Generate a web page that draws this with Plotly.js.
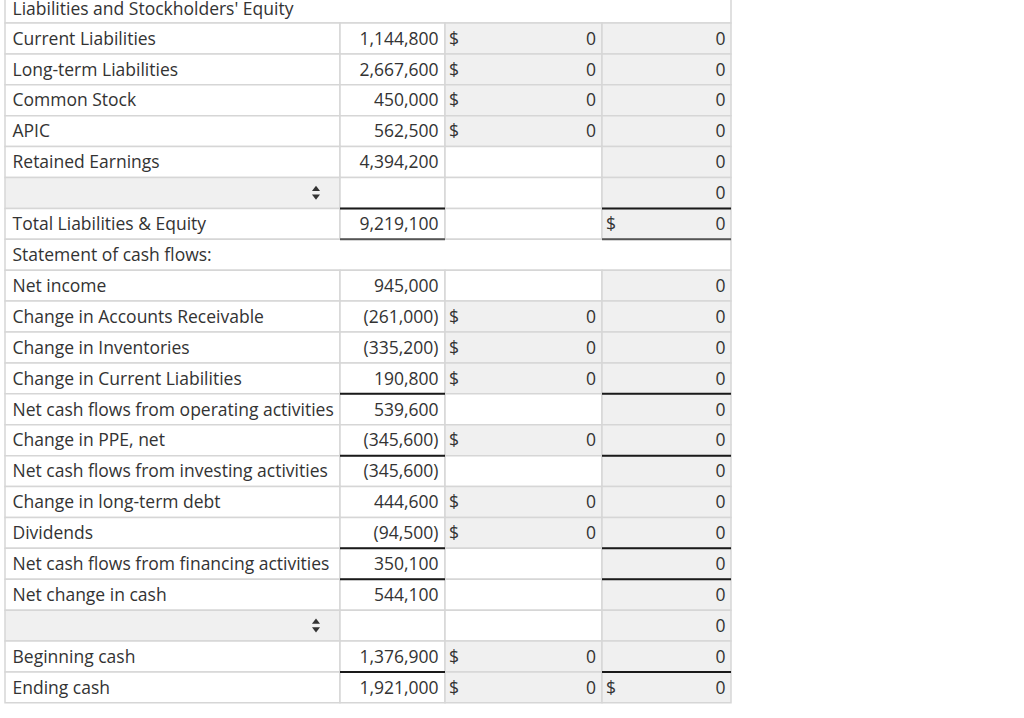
<!DOCTYPE html>
<html>
<head>
<meta charset="utf-8">
<script src="https://cdn.plot.ly/plotly-3.0.1.min.js"></script>
<style>html,body{margin:0;padding:0;background:#fff;}#chart{width:1024px;height:718px;}</style>
</head>
<body>
<div id="chart"></div>
<script>
// ---- data ----
const labels = [
  "Liabilities and Stockholders' Equity",
  "Current Liabilities",
  "Long-term Liabilities",
  "Common Stock",
  "APIC",
  "Retained Earnings",
  "",
  "Total Liabilities & Equity",
  "Statement of cash flows:",
  "Net income",
  "Change in Accounts Receivable",
  "Change in Inventories",
  "Change in Current Liabilities",
  "Net cash flows from operating activities",
  "Change in PPE, net",
  "Net cash flows from investing activities",
  "Change in long-term debt",
  "Dividends",
  "Net cash flows from financing activities",
  "Net change in cash",
  "",
  "Beginning cash",
  "Ending cash"
];
const givenValues = [null, 1144800, 2667600, 450000, 562500, 4394200, null, 9219100, null,
  945000, -261000, -335200, 190800, 539600, -345600, -345600, 444600, -94500, 350100, 544100, null,
  1376900, 1921000];
const inputValues = [null, 0, 0, 0, 0, null, null, null, null,
  null, 0, 0, 0, null, 0, null, 0, 0, null, null, null,
  0, 0];
const resultValues = [null, 0, 0, 0, 0, 0, 0, 0, null,
  0, 0, 0, 0, 0, 0, 0, 0, 0, 0, 0, 0,
  0, 0];
const resultDollar = [7, 22];
const spanRows = [0, 8];
const dropdownRows = [6, 20];
const totalRows = [7, 13, 15, 18, 19, 22];
const doubleUnderlineRows = [7];

// ---- layout helpers ----
const colEdges = [5, 340, 445, 602, 731];
const GRID = '#d6d6d6', GRAY = '#f0f0f0', TXT = '#333333';
const FONT = {family: 'Open Sans, sans-serif', size: 17.5, color: TXT};
const TY = 0.56; // text vertical position inside a row

function fmt(v) {
  if (v === null) return '';
  const s = Math.abs(v).toLocaleString('en-US');
  return v < 0 ? '(' + s + ')' : s;
}

const shapes = [];
const n = labels.length;
for (let i = 0; i < n; i++) {
  if (spanRows.includes(i)) {
    shapes.push({type: 'rect', xref: 'x', yref: 'y', x0: colEdges[0], x1: colEdges[4], y0: i, y1: i + 1,
      fillcolor: '#ffffff', line: {color: GRID, width: 1.5}, layer: 'below'});
    continue;
  }
  const fills = [
    dropdownRows.includes(i) ? GRAY : '#ffffff',
    '#ffffff',
    inputValues[i] !== null ? GRAY : '#ffffff',
    resultValues[i] !== null ? GRAY : '#ffffff'
  ];
  for (let c = 0; c < 4; c++) {
    shapes.push({type: 'rect', xref: 'x', yref: 'y', x0: colEdges[c], x1: colEdges[c + 1], y0: i, y1: i + 1,
      fillcolor: fills[c], line: {color: GRID, width: 1.5}, layer: 'below'});
  }
}
// total rules
totalRows.forEach(i => {
  [1, 3].forEach(c => {
    shapes.push({type: 'line', xref: 'x', yref: 'y', x0: colEdges[c], x1: colEdges[c + 1], y0: i, y1: i,
      line: {color: '#1a1a1a', width: 2}});
  });
});
doubleUnderlineRows.forEach(i => {
  [1, 3].forEach(c => {
    shapes.push({type: 'line', xref: 'x', yref: 'y', x0: colEdges[c], x1: colEdges[c + 1], y0: i + 1, y1: i + 1,
      line: {color: '#555555', width: 2}});
  });
});

const rowsIdx = labels.map((_, i) => i);
const mid = rowsIdx.map(i => i + (i === 0 ? TY + 0.04 : TY));

const traces = [];
// labels
traces.push({type: 'scatter', mode: 'text', x: rowsIdx.map(() => 12.5), y: mid, text: labels,
  textposition: 'middle right', textfont: FONT, hoverinfo: 'skip', showlegend: false});
// given values (col B)
traces.push({type: 'scatter', mode: 'text', x: rowsIdx.map(() => 438.5), y: mid, text: givenValues.map(fmt),
  textposition: 'middle left', textfont: FONT, hoverinfo: 'skip', showlegend: false});
// col C: $ and 0
const cIdx = rowsIdx.filter(i => inputValues[i] !== null);
traces.push({type: 'scatter', mode: 'text', x: cIdx.map(() => 449), y: cIdx.map(i => i + TY), text: cIdx.map(() => '$'),
  textposition: 'middle right', textfont: FONT, hoverinfo: 'skip', showlegend: false});
traces.push({type: 'scatter', mode: 'text', x: cIdx.map(() => 596), y: cIdx.map(i => i + TY), text: cIdx.map(i => fmt(inputValues[i])),
  textposition: 'middle left', textfont: FONT, hoverinfo: 'skip', showlegend: false});
// col D
const dIdx = rowsIdx.filter(i => resultValues[i] !== null);
traces.push({type: 'scatter', mode: 'text', x: dIdx.map(() => 725.5), y: dIdx.map(i => i + TY), text: dIdx.map(i => fmt(resultValues[i])),
  textposition: 'middle left', textfont: FONT, hoverinfo: 'skip', showlegend: false});
traces.push({type: 'scatter', mode: 'text', x: resultDollar.map(() => 606), y: resultDollar.map(i => i + TY), text: resultDollar.map(() => '$'),
  textposition: 'middle right', textfont: FONT, hoverinfo: 'skip', showlegend: false});
// dropdown icons
traces.push({type: 'scatter', mode: 'markers', x: dropdownRows.map(() => 316), y: dropdownRows.map(i => i + 0.38),
  marker: {symbol: 'triangle-up', size: 7, color: '#333'}, hoverinfo: 'skip', showlegend: false});
traces.push({type: 'scatter', mode: 'markers', x: dropdownRows.map(() => 316), y: dropdownRows.map(i => i + 0.61),
  marker: {symbol: 'triangle-down', size: 7, color: '#333'}, hoverinfo: 'skip', showlegend: false});

const layout = {
  width: 1024, height: 718,
  margin: {l: 0, r: 0, t: 0, b: 0, pad: 0},
  paper_bgcolor: '#ffffff', plot_bgcolor: '#ffffff',
  xaxis: {range: [0, 1024], visible: false, fixedrange: true},
  yaxis: {range: [23.49, 0.256], visible: false, fixedrange: true},
  shapes: shapes,
  showlegend: false
};
Plotly.newPlot('chart', traces, layout, {staticPlot: true, displayModeBar: false});
</script>
</body>
</html>
